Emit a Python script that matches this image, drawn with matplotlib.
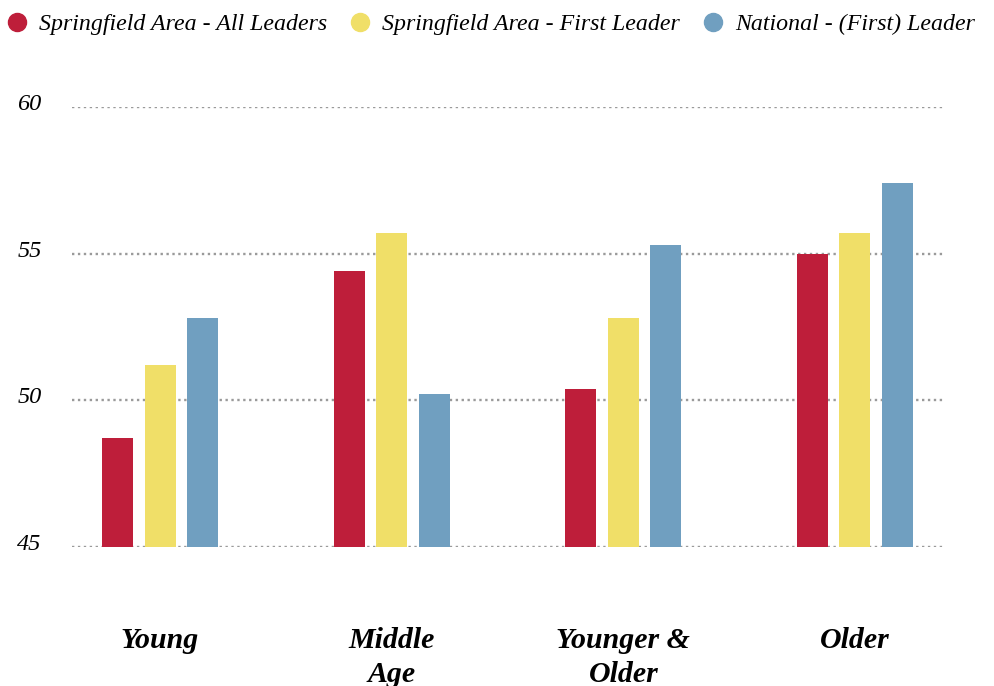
import matplotlib
matplotlib.use("Agg")
import matplotlib.pyplot as plt
from matplotlib.lines import Line2D
from matplotlib.transforms import ScaledTranslation
import numpy as np

categories = ["Young", "Middle\nAge", "Younger &\nOlder", "Older"]
series_names = ["Springfield Area - All Leaders", "Springfield Area - First Leader", "National - (First) Leader"]
all_leaders = [48.7, 54.4, 50.4, 55.0]
first_leader = [51.2, 55.7, 52.8, 55.7]
national = [52.8, 50.2, 55.3, 57.4]
colors = ["#BE1E3A", "#F0DF68", "#709FC0"]
yticks = [45, 50, 55, 60]

fig = plt.figure(figsize=(9.95, 6.86), dpi=100)
ax = fig.add_axes([72/995, 1-547/686, (943-72)/995, (547-107)/686])

x = np.arange(len(categories))
w = 0.134
off = 0.184
for i, (vals, c) in enumerate(zip([all_leaders, first_leader, national], colors)):
    ax.bar(x + (i-1)*off, np.array(vals) - 45, width=w, bottom=45, color=c, zorder=3)

ax.set_ylim(45, 60)
ax.set_xlim(-0.38, 3.38)
ax.set_yticks(yticks)
ax.set_yticklabels([str(t) for t in yticks], family="Liberation Serif", style="italic", fontsize=17.5)
ax.set_xticks(x)
ax.set_xticklabels(categories, family="Liberation Serif", style="italic", weight="bold", fontsize=21.5, linespacing=1.32)
ax.tick_params(axis="y", length=0, pad=22)
ax.tick_params(axis="x", length=0, pad=57.5)
for lab in ax.get_yticklabels():
    lab.set_transform(lab.get_transform() + ScaledTranslation(0, 5/100, fig.dpi_scale_trans))
for s in ax.spines.values():
    s.set_visible(False)
ax.yaxis.grid(True, linestyle=(0, (1, 1.5)), color="#9a9a9a", linewidth=1.7, zorder=0)
ax.xaxis.grid(False)

handles = [Line2D([], [], marker="o", linestyle="none", markersize=13, color=c) for c in colors]
fig.legend(handles, series_names, loc="upper left", bbox_to_anchor=(-0.012, 1.001), ncol=3, frameon=False,
           prop={"family": "Liberation Serif", "style": "italic", "size": 17.2},
           handletextpad=0.33, columnspacing=0.78, handlelength=1.2, borderaxespad=0.2)

fig.savefig("out.png", dpi=100)
